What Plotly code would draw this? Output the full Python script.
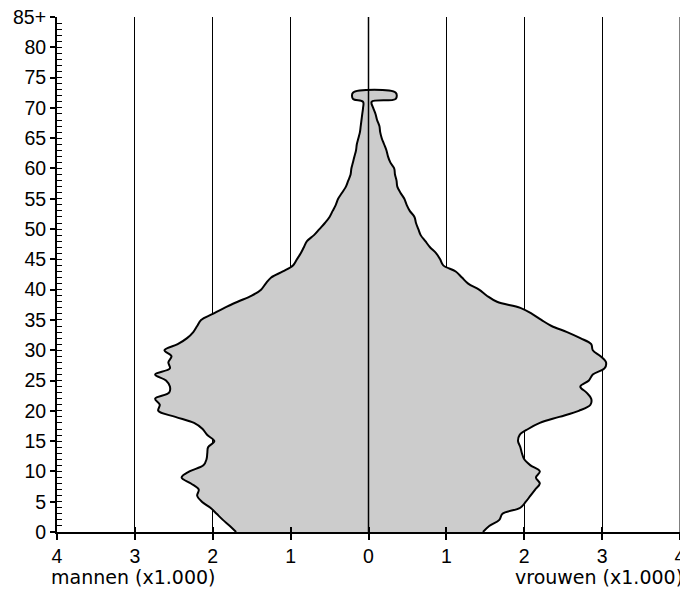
import plotly.graph_objects as go

# ---- data (thousands of persons per single year of age) ----
ages = list(range(0, 73))
mannen = [1.70, 1.78, 1.87, 1.95, 2.03, 2.14, 2.20, 2.18, 2.28, 2.40,
          2.30, 2.12, 2.08, 2.07, 2.06, 1.98, 2.07, 2.13, 2.24, 2.48,
          2.70, 2.68, 2.74, 2.56, 2.55, 2.60, 2.74, 2.55, 2.57, 2.53,
          2.62, 2.45, 2.33, 2.25, 2.20, 2.15, 2.00, 1.85, 1.68, 1.50,
          1.38, 1.32, 1.25, 1.10, 0.97, 0.92, 0.87, 0.83, 0.79, 0.70,
          0.63, 0.56, 0.50, 0.46, 0.42, 0.39, 0.34, 0.29, 0.26, 0.23,
          0.22, 0.20, 0.18, 0.16, 0.15, 0.13, 0.11, 0.10, 0.09, 0.08,
          0.07, 0.07, 0.20]
vrouwen = [1.47, 1.55, 1.68, 1.72, 1.95, 2.02, 2.08, 2.14, 2.20, 2.15,
           2.20, 2.08, 2.00, 1.97, 1.95, 1.92, 1.94, 2.05, 2.20, 2.45,
           2.70, 2.85, 2.86, 2.80, 2.72, 2.83, 2.88, 3.03, 3.05, 2.98,
           2.88, 2.86, 2.72, 2.55, 2.35, 2.22, 2.10, 1.95, 1.65, 1.52,
           1.42, 1.28, 1.20, 1.12, 0.96, 0.92, 0.87, 0.79, 0.73, 0.67,
           0.64, 0.61, 0.59, 0.53, 0.49, 0.46, 0.41, 0.37, 0.36, 0.34,
           0.33, 0.28, 0.25, 0.23, 0.20, 0.17, 0.15, 0.14, 0.11, 0.09,
           0.06, 0.04, 0.35]

y_tickvals = list(range(0, 90, 5))
y_ticktext = [str(v) for v in range(0, 85, 5)] + ["85+"]
x_tickvals = list(range(-4, 5))
x_ticktext = [str(abs(v)) for v in x_tickvals]

# ---- build outline: male side upward, last-age bin as a cap, female side downward ----
half = 0.5
top = ages[-1]
xs = [-m for m in mannen[:-1]] + [-mannen[-1], -mannen[-1], vrouwen[-1], vrouwen[-1]] \
     + [v for v in reversed(vrouwen[:-1])]
ys = ages[:-1] + [top - half, top + half, top + half, top - half] + list(reversed(ages[:-1]))

fig = go.Figure()
fig.add_trace(go.Scatter(
    x=xs, y=ys, mode="lines", fill="toself", fillcolor="#cccccc",
    line=dict(color="black", width=2, shape="spline", smoothing=1),
    hoverinfo="skip", showlegend=False))

# invisible trace carrying secondary (inside tick) axes
fig.add_trace(go.Scatter(x=[0], y=[0], xaxis="x2", yaxis="y2", mode="markers",
                         marker=dict(opacity=0), hoverinfo="skip", showlegend=False))

font = dict(family="DejaVu Sans, Verdana, sans-serif", size=19, color="black")
tickfont = dict(family="Liberation Sans, Arial, sans-serif", size=19.5, color="black")

# page body has an 8px margin, so the figure is 8px smaller than the window
fig.update_layout(
    template="none",
    width=680, height=581,
    margin=dict(l=49, r=8, t=9, b=57, autoexpand=False),
    paper_bgcolor="white", plot_bgcolor="white",
    font=font,
    xaxis=dict(range=[-4, 4], tickvals=x_tickvals, ticktext=x_ticktext,
               automargin=False, ticklabeloverflow="allow",
               showgrid=True, gridcolor="black", gridwidth=1,
               zeroline=False, showline=True, linecolor="black", linewidth=2,
               ticks="outside", ticklen=6, tickwidth=1.5, tickcolor="black",
               tickfont=tickfont),
    xaxis2=dict(range=[-4, 4], overlaying="x", side="bottom", tickvals=x_tickvals,
                automargin=False,
                showgrid=False, zeroline=False, showline=False,
                ticks="inside", ticklen=5, tickwidth=1.5, tickcolor="black",
                showticklabels=False),
    yaxis=dict(range=[0, 85], tickvals=y_tickvals, ticktext=y_ticktext,
               automargin=False, ticklabeloverflow="allow",
               showgrid=False, zeroline=False, showline=True,
               linecolor="black", linewidth=2,
               ticks="outside", ticklen=5, tickwidth=1.5, tickcolor="black",
               ticklabelstandoff=0, tickfont=tickfont),
    yaxis2=dict(range=[0, 85], overlaying="y", side="left", dtick=1, tick0=0,
                automargin=False,
                showgrid=False, zeroline=False, showline=False,
                ticks="inside", ticklen=5, tickwidth=1, tickcolor="black",
                showticklabels=False),
)

# zero line on top of the fill, and the right-edge gridline
fig.add_shape(type="line", xref="x", yref="y domain", x0=0, x1=0, y0=0, y1=1,
              line=dict(color="black", width=1.5), layer="above")
fig.add_shape(type="line", xref="x", yref="y domain", x0=x_tickvals[-1], x1=x_tickvals[-1],
              y0=0, y1=1, line=dict(color="black", width=1), layer="below")

fig.add_annotation(text="mannen (x1.000)", xref="paper", yref="paper",
                   x=0, y=0, xanchor="left", yanchor="middle", yshift=-45,
                   xshift=-8, showarrow=False, font=font)
fig.add_annotation(text="vrouwen (x1.000)", xref="paper", yref="paper",
                   x=1, y=0, xanchor="right", yanchor="middle", yshift=-45,
                   xshift=5, showarrow=False, font=font)

fig.write_html("out.html")
